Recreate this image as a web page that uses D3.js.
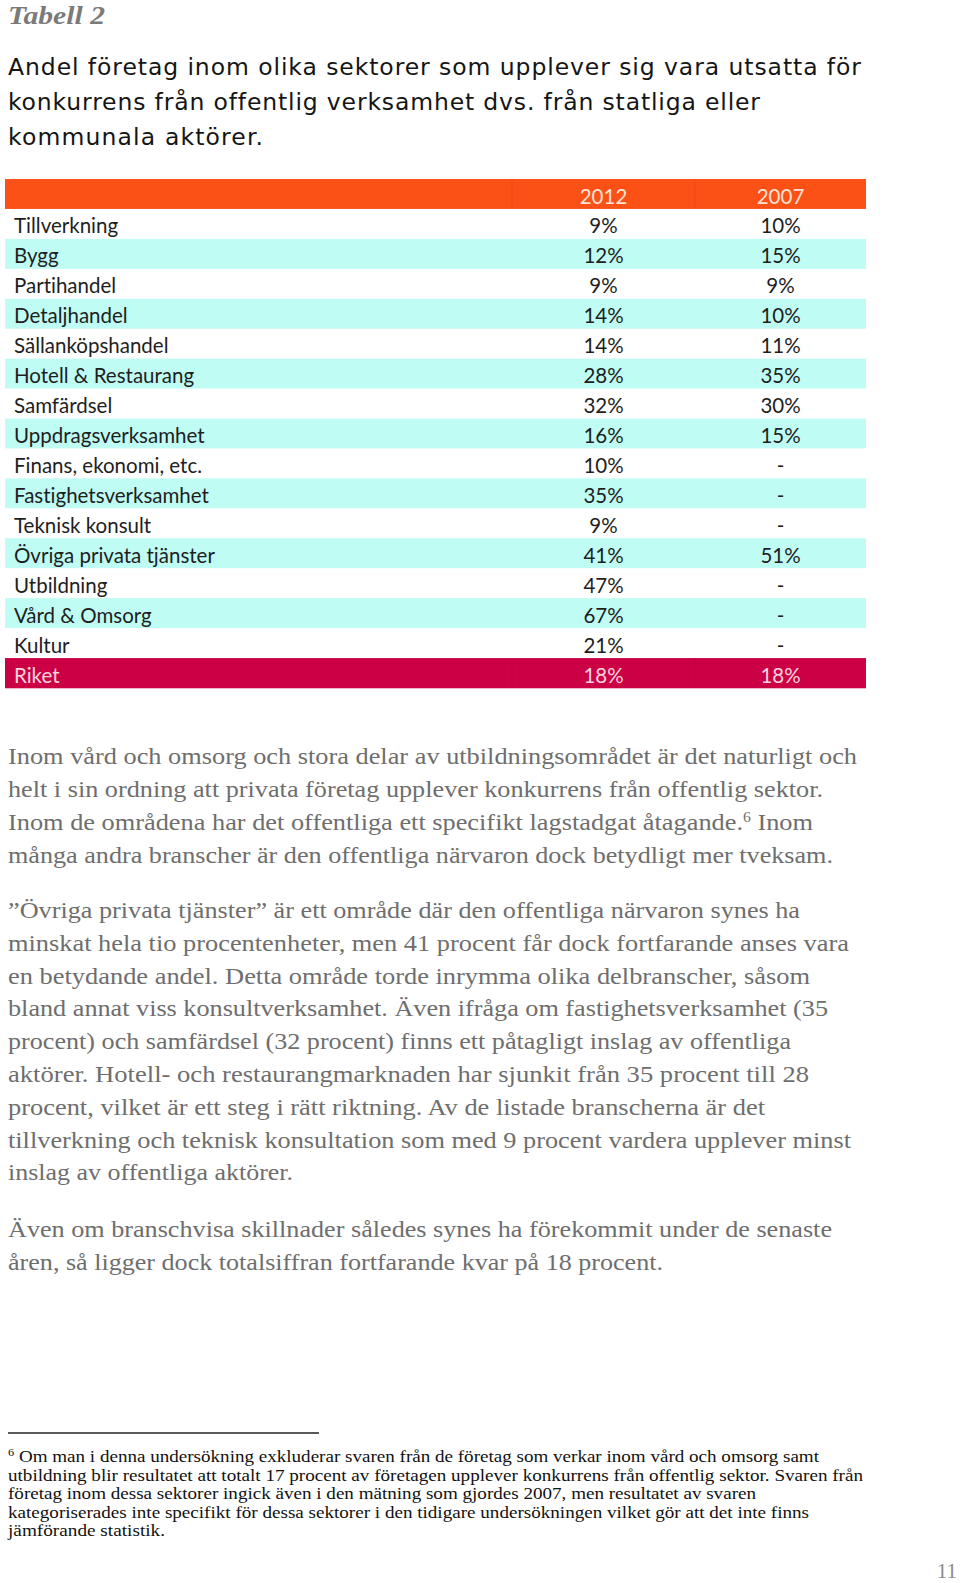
<!DOCTYPE html>
<html>
<head>
<meta charset="utf-8">
<script src="https://cdn.jsdelivr.net/npm/d3@7"></script>
<style>
  html, body { margin: 0; padding: 0; background: #fff; }
  svg { display: block; }
  text { font-variant-ligatures: none; font-feature-settings: "liga" 0, "clig" 0, "dlig" 0; }
</style>
</head>
<body>
<svg id="chart" width="960" height="1583"></svg>
<script>
// ---------- data ----------
const categories = ["Tillverkning", "Bygg", "Partihandel", "Detaljhandel", "Sällanköpshandel",
  "Hotell & Restaurang", "Samfärdsel", "Uppdragsverksamhet", "Finans, ekonomi, etc.",
  "Fastighetsverksamhet", "Teknisk konsult", "Övriga privata tjänster", "Utbildning",
  "Vård & Omsorg", "Kultur", "Riket"];
const values2012 = [9, 12, 9, 14, 14, 28, 32, 16, 10, 35, 9, 41, 47, 67, 21, 18];
const values2007 = [10, 15, 9, 10, 11, 35, 30, 15, null, null, null, 51, null, null, null, 18];
const years = ["2012", "2007"];

const tableTitle = "Tabell 2";
const subtitleLines = [
  "Andel företag inom olika sektorer som upplever sig vara utsatta för",
  "konkurrens från offentlig verksamhet dvs. från statliga eller",
  "kommunala aktörer."
];
const para1 = [
  ["Inom vård och omsorg och stora delar av utbildningsområdet är det naturligt och"],
  ["helt i sin ordning att privata företag upplever konkurrens från offentlig sektor."],
  ["Inom de områdena har det offentliga ett specifikt lagstadgat åtagande.", "6", " Inom"],
  ["många andra branscher är den offentliga närvaron dock betydligt mer tveksam."]
];
const para2 = [
  ["”Övriga privata tjänster” är ett område där den offentliga närvaron synes ha"],
  ["minskat hela tio procentenheter, men 41 procent får dock fortfarande anses vara"],
  ["en betydande andel. Detta område torde inrymma olika delbranscher, såsom"],
  ["bland annat viss konsultverksamhet. Även ifråga om fastighetsverksamhet (35"],
  ["procent) och samfärdsel (32 procent) finns ett påtagligt inslag av offentliga"],
  ["aktörer. Hotell- och restaurangmarknaden har sjunkit från 35 procent till 28"],
  ["procent, vilket är ett steg i rätt riktning. Av de listade branscherna är det"],
  ["tillverkning och teknisk konsultation som med 9 procent vardera upplever minst"],
  ["inslag av offentliga aktörer."]
];
const para3 = [
  ["Även om branschvisa skillnader således synes ha förekommit under de senaste"],
  ["åren, så ligger dock totalsiffran fortfarande kvar på 18 procent."]
];
const footnote = [
  ["", "6", " Om man i denna undersökning exkluderar svaren från de företag som verkar inom vård och omsorg samt"],
  ["utbildning blir resultatet att totalt 17 procent av företagen upplever konkurrens från offentlig sektor. Svaren från"],
  ["företag inom dessa sektorer ingick även i den mätning som gjordes 2007, men resultatet av svaren"],
  ["kategoriserades inte specifikt för dessa sektorer i den tidigare undersökningen vilket gör att det inte finns"],
  ["jämförande statistik."]
];
const pageNumber = "11";

// ---------- drawing ----------
const svg = d3.select("#chart");
const fmt = v => v == null ? "-" : v + "%";

// Title
svg.append("text")
  .attr("x", 8).attr("y", 24)
  .attr("font-family", "'Liberation Serif', 'DejaVu Serif', serif")
  .attr("font-style", "italic").attr("font-weight", "bold")
  .attr("font-size", 25).attr("fill", "#7a7a7a")
  .attr("textLength", 97).attr("lengthAdjust", "spacingAndGlyphs")
  .text(tableTitle);

// Subtitle
const subWidths = [853, 752, 255];
const subY = d3.scaleLinear().domain([0, 1]).range([75, 110]);
svg.append("g").selectAll("text").data(subtitleLines).join("text")
  .attr("x", 8).attr("y", (d, i) => subY(i))
  .attr("font-family", "'DejaVu Sans', Verdana, sans-serif")
  .attr("font-size", 23.5).attr("fill", "#151515")
  .attr("textLength", (d, i) => subWidths[i])
  .attr("lengthAdjust", "spacing")
  .text(d => d);

// Table
const rowKeys = ["__header", ...categories];
const y = d3.scaleBand().domain(rowKeys).range([179, 688]);
const colX = d3.scaleOrdinal().domain(years).range([603.5, 780.5]);
const colEdges = d3.scaleOrdinal().domain(["label", ...years]).range([[5, 512], [512, 695], [695, 866]]);
const tableLeft = colEdges("label")[0], tableRight = colEdges("2007")[1];

const rowFill = (key, i) => {
  if (key === "__header") return "#fb5117";
  if (key === "Riket") return "#cc0044";
  return (i % 2 === 0) ? "#bffcf4" : "#ffffff"; // i counts with header at 0
};

const table = svg.append("g");
table.selectAll("rect.row").data(rowKeys).join("rect")
  .attr("class", "row")
  .attr("x", tableLeft).attr("width", tableRight - tableLeft)
  .attr("y", d => y(d)).attr("height", y.bandwidth() + 0.3)
  .attr("fill", (d, i) => rowFill(d, i));

// faint column separators in header and total row
["__header", "Riket"].forEach(k => {
  years.forEach(yr => {
    const xe = colEdges(yr)[0];
    table.append("line")
      .attr("x1", xe).attr("x2", xe)
      .attr("y1", y(k)).attr("y2", y(k) + y.bandwidth())
      .attr("stroke", "rgba(0,0,0,0.06)").attr("stroke-width", 1);
  });
});

const tFont = "Lato, 'Open Sans', sans-serif";
const textColor = k => k === "__header" ? "#ffe3d4" : (k === "Riket" ? "#f9d3de" : "#1e1e1e");
const baseOff = 24.5;

// header labels
table.selectAll("text.hdr").data(years).join("text")
  .attr("class", "hdr")
  .attr("x", d => colX(d)).attr("y", y("__header") + baseOff)
  .attr("text-anchor", "middle")
  .attr("font-family", tFont).attr("font-size", 20.5)
  .attr("fill", textColor("__header"))
  .text(d => d);

// category labels
table.selectAll("text.cat").data(categories).join("text")
  .attr("class", "cat")
  .attr("x", 14).attr("y", d => y(d) + baseOff)
  .attr("font-family", tFont).attr("font-size", 20.5)
  .attr("fill", d => textColor(d))
  .text(d => d);

// values
const cells = [];
categories.forEach((c, i) => {
  cells.push({ cat: c, year: "2012", v: values2012[i] });
  cells.push({ cat: c, year: "2007", v: values2007[i] });
});
table.selectAll("text.val").data(cells).join("text")
  .attr("class", "val")
  .attr("x", d => colX(d.year)).attr("y", d => y(d.cat) + baseOff)
  .attr("text-anchor", "middle")
  .attr("font-family", tFont).attr("font-size", 20.5)
  .attr("fill", d => textColor(d.cat))
  .text(d => fmt(d.v));

// Body paragraphs
const serif = "'Liberation Serif', 'DejaVu Serif', serif";
function drawLines(lines, startY, step, size, color, widths, supSize, supShift) {
  const g = svg.append("g");
  lines.forEach((parts, i) => {
    const t = g.append("text")
      .attr("x", 8).attr("y", startY + i * step)
      .attr("font-family", serif).attr("font-size", size).attr("fill", color);
    if (widths && widths[i]) {
      t.attr("textLength", widths[i]).attr("lengthAdjust", "spacingAndGlyphs");
    }
    if (parts.length === 1) {
      t.text(parts[0]);
    } else {
      if (parts[0]) t.append("tspan").text(parts[0]);
      t.append("tspan").attr("font-size", supSize).attr("dy", -supShift).text(parts[1]);
      t.append("tspan").attr("dy", supShift).text(parts[2]);
    }
  });
}
const bodyColor = "#6e6e6e";
drawLines(para1, 764, 33, 23.5, bodyColor, [849, 815, 805, 825], 14, 8);
drawLines(para2, 918, 32.8, 23.5, bodyColor, [792, 841, 802, 820, 783, 801, 757, 843, 285], 14, 8);
drawLines(para3, 1237, 32.8, 23.5, bodyColor, [824, 655], 14, 8);

// Footnote rule
svg.append("line")
  .attr("x1", 8).attr("x2", 319).attr("y1", 1433).attr("y2", 1433)
  .attr("stroke", "#222").attr("stroke-width", 1.5);

drawLines(footnote, 1462, 18.5, 17, "#111", [811, 855, 748, 801, 157], 11, 6);

// Page number
svg.append("text")
  .attr("x", 957).attr("y", 1578)
  .attr("text-anchor", "end")
  .attr("font-family", serif).attr("font-size", 21).attr("fill", "#8a8a8a")
  .text(pageNumber);
</script>
</body>
</html>
